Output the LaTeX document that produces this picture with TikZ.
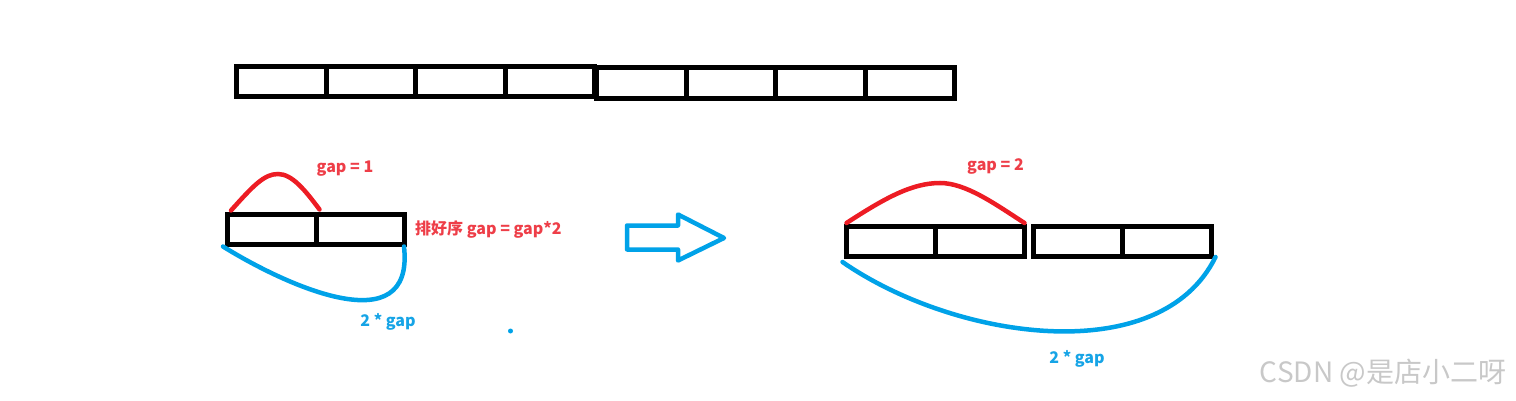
\documentclass[tikz,border=0pt]{standalone}
\usepackage{fontspec}
\newfontfamily\cjkfont{Noto Sans CJK SC}
\usetikzlibrary{positioning}
\definecolor{paintred}{RGB}{237,28,36}
\definecolor{paintblue}{RGB}{0,162,232}
\definecolor{labelred}{RGB}{238,62,72}
\definecolor{labelblue}{RGB}{22,164,230}
\definecolor{markgray}{RGB}{200,200,200}
\begin{document}
\begin{tikzpicture}[x=1pt,y=-1pt,
        cell/.style={draw,line width=5pt,minimum width=89.5pt,minimum height=30pt,inner sep=0pt},
        redarc/.style={paintred,line width=4.5pt,line cap=round},
        bluearc/.style={paintblue,line width=4.5pt,line cap=round},
        lbl/.style={inner sep=0pt,font=\cjkfont\bfseries\fontsize{16}{18}\selectfont}]
        \useasboundingbox (0,0) rectangle (1516,401);
        %% long row of eight cells
        \foreach \i in {0,...,3} {
            \node[cell] (top\i) at (281.25+89.5*\i,81.5) {};
            \node[cell,minimum height=31pt] (topr\i) at (641.25+89.5*\i,83) {};
        }
        %% sorted pair, gap = 1
        \node[cell,minimum width=88.5pt] (la) at (271.75,229) {};
        \node[cell,minimum width=88.5pt] (lb) at (360.25,229) {};
        \draw[redarc] ([shift={(6,-1)}]la.north west) .. controls (253,186) and (264,174) .. (278,174)
            .. controls (292,174) and (305,190) .. ([shift={(1,-2)}]la.north east);
        \draw[bluearc] ([xshift=-2pt]la.south west) .. controls (285,285) and (415,345) .. ([xshift=-3pt]lb.south east);
        \node[lbl,labelred,anchor=base] (gapone) at (345,172) {gap = 1};
        \node[lbl,labelred,right=8pt of lb] (sortlbl) {排好序 gap = gap*2};
        \node[lbl,labelblue,anchor=base] (twogapl) at (388,326) {2 * gap};
        \fill[paintblue] (510.5,331) circle (2.5pt);
        %% hollow arrow
        \draw[paintblue,line width=4.5pt,line join=round] (627,225.5) -- ++(51,0) -- ++(0,-11) -- (724,238)
            -- (678,260.5) -- ++(0,-11) -- (627,249.5) -- cycle;
        %% sorted quad, gap = 2
        \node[cell,minimum width=89pt] (ra) at (890.5,241.5) {};
        \node[cell,minimum width=89pt] (rb) at (979.5,241.5) {};
        \node[cell,minimum width=89pt] (rc) at (1077.5,241.5) {};
        \node[cell,minimum width=89pt] (rd) at (1166.5,241.5) {};
        \draw[redarc] ([shift={(3,-1)}]ra.north west) .. controls (885,198) and (912,183) .. (940,183)
            .. controls (966,183) and (995,204) .. ([shift={(-2,-1)}]rb.north east);
        \draw[bluearc] ([shift={(-1,3)}]ra.south west) .. controls (955,340) and (1160,370) .. ([shift={(2,-2)}]rd.south east);
        \node[lbl,labelred,anchor=base] (gaptwo) at (995.5,171) {gap = 2};
        \node[lbl,labelblue,anchor=base] (twogapr) at (1077,363) {2 * gap};
        %% watermark
        \node[inner sep=0pt,markgray,anchor=base,font=\cjkfont\fontsize{28}{30}\selectfont] (mark) at (1383,382) {CSDN @是店小二呀};
    \end{tikzpicture}
\end{document}
